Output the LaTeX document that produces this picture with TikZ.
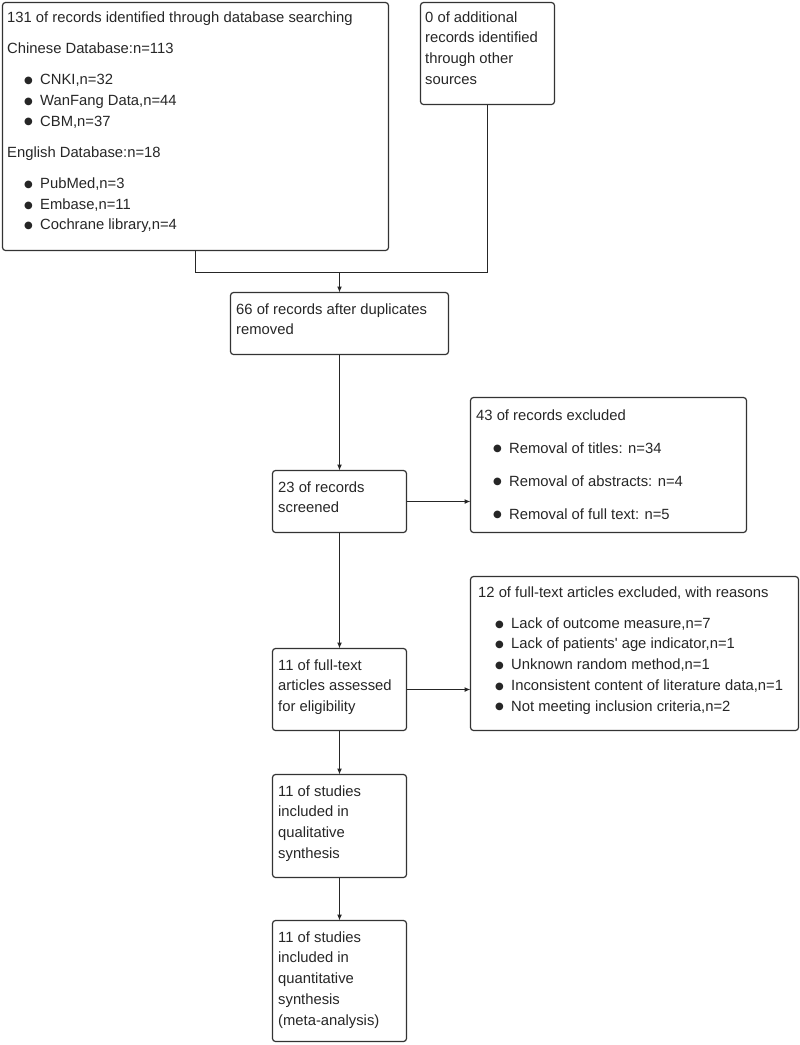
\documentclass[tikz,border=0pt]{standalone}
\usepackage{fontspec}
\setmainfont{Liberation Sans}
\newfontfamily\dotfont{DejaVu Sans}
\usetikzlibrary{arrows.meta}
\newcommand{\bul}{\hspace*{17pt}\makebox[16pt][l]{\raisebox{1.2pt}{\dotfont\fontsize{10}{10}\selectfont ●}}}
\begin{document}
\begin{tikzpicture}[x=1pt,y=-1pt,
  box/.style={draw=black!80, line width=1.2pt, rounded corners=3pt, inner sep=0pt, outer sep=0pt},
  txt/.style={anchor=north west, inner sep=0pt, align=left, font=\fontsize{14.8}{20.7}\selectfont, text=black!85},
  arr/.style={draw=black!85, line width=1.2pt, -{Latex[length=6pt,width=5pt]}},
  ln/.style={draw=black!85, line width=1.2pt}]
\useasboundingbox (0,0) rectangle (800,1045);

\node[box, minimum width=386pt, minimum height=248pt] (b1) at (195.5,126.5) {};
\node[box, minimum width=134pt, minimum height=102pt] (b2) at (487.5,53.5) {};
\node[box, minimum width=218pt, minimum height=62pt] (b3) at (339.5,323.5) {};
\node[box, minimum width=134pt, minimum height=62pt] (b4) at (339.5,501.5) {};
\node[box, minimum width=276pt, minimum height=135pt] (b5) at (608.5,465) {};
\node[box, minimum width=328pt, minimum height=154pt] (b6) at (634.5,653.5) {};
\node[box, minimum width=134pt, minimum height=82pt] (b7) at (339.5,689.5) {};
\node[box, minimum width=134pt, minimum height=103pt] (b8) at (339.5,826) {};
\node[box, minimum width=134pt, minimum height=121pt] (b9) at (339.5,981) {};

\node[txt] (t1) at (7,7.5) {\strut 131 of records identified through database searching\\[10.3pt]
Chinese Database:n=113\\[10.8pt]
\bul CNKI,n=32\\
\bul WanFang Data,n=44\\
\bul CBM,n=37\\[10.8pt]
English Database:n=18\\[10.3pt]
\bul PubMed,n=3\\
\bul Embase,n=11\\
\bul Cochrane library,n=4};
\node[txt] (t2) at (425,7.5) {\strut 0 of additional\\records identified\\through other\\sources};
\node[txt] (t3) at (236,299.5) {\strut 66 of records after duplicates\\removed};
\node[txt] (t4) at (278,477.5) {\strut 23 of records\\screened};
\node[txt] (t5) at (476,405.5) {\strut 43 of records excluded\\[12.3pt]
\bul Removal of titles: n=34\\[12.3pt]
\bul Removal of abstracts: n=4\\[12.3pt]
\bul Removal of full text: n=5};
\node[txt] (t6) at (478,582.5) {\strut 12 of full-text articles excluded, with reasons\\[10.3pt]
\bul Lack of outcome measure,n=7\\
\bul Lack of patients\textquotesingle{} age indicator,n=1\\
\bul Unknown random method,n=1\\
\bul Inconsistent content of literature data,n=1\\
\bul Not meeting inclusion criteria,n=2};
\node[txt] (t7) at (278,655.5) {\strut 11 of full-text\\articles assessed\\for eligibility};
\node[txt] (t8) at (278,781.5) {\strut 11 of studies\\included in\\qualitative\\synthesis};
\node[txt] (t9) at (278,927.5) {\strut 11 of studies\\included in\\quantitative\\synthesis\\(meta-analysis)};

\coordinate (j) at (339.5,272.5);
\draw[ln] (b1.south) |- (j) -| (b2.south);
\draw[arr] (j) -- (b3.north);
\draw[arr] (b3.south) -- (b4.north);
\draw[arr] (b4.east) -- (b4.east -| b5.west);
\draw[arr] (b4.south) -- (b7.north);
\draw[arr] (b7.east) -- (b7.east -| b6.west);
\draw[arr] (b7.south) -- (b8.north);
\draw[arr] (b8.south) -- (b9.north);
\end{tikzpicture}
\end{document}
